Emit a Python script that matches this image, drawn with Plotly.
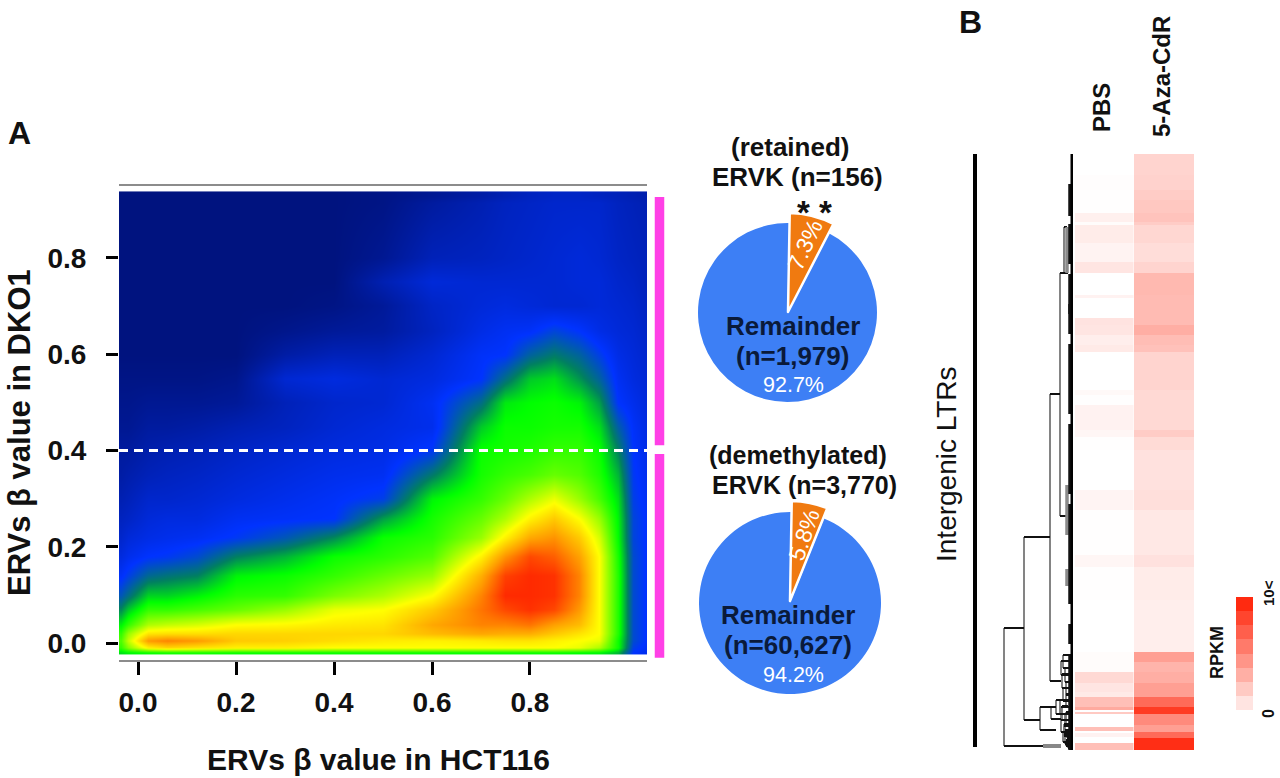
import plotly.graph_objects as go

W, H = 1280, 778

# ---------- Panel A: density (0 navy, .2 blue, .45 green, .7 yellow, 1 red)
density_x = [-0.034, -0.02, 0.02, 0.06, 0.12, 0.2, 0.3, 0.4, 0.5, 0.6, 0.7, 0.75, 0.8, 0.85, 0.9, 0.94, 0.98, 1.01, 1.04]
density_y = [-0.018, -0.008, 0.005, 0.02, 0.04, 0.07, 0.10, 0.14, 0.18, 0.22, 0.26, 0.30, 0.35, 0.40, 0.45, 0.50, 0.55, 0.60, 0.65, 0.70, 0.75, 0.80, 0.915, 0.93]
density_by_column = [
    [.42,.50,.53,.50,.44,.34,.26,.19,.15,.12,.10,.08,.06,.05,.03,.02,.01,0,0,0,0,0,0,0],
    [.44,.58,.64,.60,.50,.40,.30,.22,.17,.14,.11,.09,.07,.05,.03,.02,.01,0,0,0,0,0,0,0],
    [.46,.72,.85,.74,.62,.50,.41,.29,.20,.16,.14,.12,.09,.07,.05,.03,.01,0,0,0,0,0,0,0],
    [.47,.76,.88,.75,.64,.50,.41,.31,.21,.17,.15,.12,.10,.08,.05,.03,.01,0,0,0,0,0,0,0],
    [.47,.74,.85,.75,.66,.52,.44,.33,.24,.18,.15,.13,.11,.09,.06,.03,.01,0,0,0,0,0,0,0],
    [.46,.72,.78,.76,.70,.55,.49,.44,.33,.21,.18,.15,.13,.11,.08,.04,.02,0,0,0,0,0,0,0],
    [.46,.72,.77,.76,.71,.60,.50,.46,.38,.26,.19,.17,.15,.13,.10,.09,.13,.06,.02,0,0,0,0,0],
    [.46,.70,.75,.76,.73,.68,.57,.50,.46,.34,.20,.19,.17,.15,.13,.12,.15,.09,.04,.01,0,0,0,0],
    [.46,.70,.73,.76,.74,.70,.62,.55,.49,.46,.36,.22,.18,.16,.15,.13,.13,.09,.05,.04,.08,.03,.01,.01],
    [.46,.70,.72,.80,.83,.78,.70,.60,.53,.49,.47,.44,.32,.21,.17,.18,.15,.13,.10,.11,.14,.09,.05,.03],
    [.46,.70,.73,.83,.88,.90,.88,.82,.72,.60,.55,.50,.47,.46,.40,.30,.20,.19,.16,.14,.13,.10,.08,.06],
    [.46,.70,.74,.82,.88,.96,1.0,.97,.86,.72,.62,.55,.50,.47,.46,.43,.30,.20,.18,.15,.13,.11,.10,.08],
    [.46,.70,.74,.82,.90,.99,1.0,1.0,.96,.83,.72,.62,.52,.48,.46,.45,.40,.28,.19,.14,.13,.12,.11,.10],
    [.46,.70,.72,.78,.84,.96,.99,.99,.93,.86,.78,.68,.55,.50,.47,.46,.42,.32,.23,.13,.13,.13,.12,.11],
    [.45,.68,.70,.74,.80,.85,.88,.88,.84,.78,.70,.60,.53,.50,.47,.44,.35,.28,.20,.13,.14,.14,.12,.11],
    [.44,.62,.68,.70,.70,.70,.70,.70,.70,.66,.60,.52,.48,.46,.42,.36,.28,.22,.16,.14,.14,.13,.12,.10],
    [.38,.46,.46,.48,.48,.48,.48,.48,.47,.45,.44,.42,.38,.33,.27,.20,.18,.16,.14,.13,.12,.11,.10,.09],
    [.20,.22,.24,.24,.24,.24,.24,.24,.24,.23,.23,.22,.21,.20,.19,.17,.15,.14,.13,.12,.11,.10,.09,.08],
    [.17,.18,.19,.19,.19,.19,.19,.19,.19,.19,.19,.18,.17,.16,.15,.14,.13,.12,.11,.10,.09,.09,.08,.07],
]
density_colors = [[0, "#00137f"], [0.2, "#0033ff"], [0.33, "#008060"], [0.45, "#00ff00"],
                  [0.7, "#ffff00"], [0.85, "#ff9a00"], [1, "#ff2a00"]]
tick_values = [0.0, 0.2, 0.4, 0.6, 0.8]
tick_labels = ["0.0", "0.2", "0.4", "0.6", "0.8"]
threshold = [0.4, 0.4]
threshold_x = [-0.0388, 1.0388]
retained_bar = [0.411, 0.926]
demethylated_bar = [-0.03, 0.393]

# ---------- Pies
retained_share = [7.3, 92.7]
demethylated_share = [5.8, 94.2]
pie_labels = ["ERVK", "Remainder"]

# ---------- Panel B heat map: row boundaries along the cluster order, RPKM
row_edges = [0, 21, 36, 46, 59, 68, 71, 89, 108, 119, 141, 144, 164, 171, 181, 191, 198, 236, 241, 251, 276, 283,
             296, 336, 356, 401, 413, 446, 498, 508, 518, 529, 538, 543, 553, 555.5, 557.5, 560, 571, 573, 577, 578,
             579, 583, 584, 589, 596]
pbs_rpkm = [0.02, 0.08, 0.05, 0.05, 0.7, 0.15, 0.9, 0.55, 1.2, 0, 0.6, 0, 1.3, 1.2, 0.8, 1.0, 0, 0.3, 0.05, 0.6, 0.4, 0.05,
            0.02, 0.5, 0.05, 0.4, 0.05, 0, 0.15, 0.15, 1.8, 1.2, 1.0, 3.0, 4.0, 0, 2.5, 0, 0, 3.0, 0, 0,
            0.6, 0, 0, 3.0]
aza_rpkm = [2.0, 2.1, 2.4, 2.6, 2.8, 2.4, 1.9, 1.6, 2.0, 3.3, 3.2, 3.2, 3.2, 3.8, 3.1, 2.9, 2.0, 1.8, 1.8, 1.8, 2.4, 1.7,
            1.4, 1.5, 1.1, 1.4, 0.9, 0.8, 4.5, 3.5, 3.8, 4.5, 4.5, 7.0, 9.2, 9.2, 9.2, 5.5, 4.5, 4.5, 4.5, 7.0,
            7.0, 7.0, 9.8, 9.8]
rpkm_colors = [[0, "#ffffff"], [1, "#ff2a10"]]
legend_steps = [10, 8.75, 7.5, 6.25, 5, 3.75, 2.5, 1.25]

# ---------- Dendrogram: node height, row span, and how far each arm reaches (height values)
node_height = [69, 49, 23, 13, 9, 33, 22, 17, 12, 8, 10, 12, 8, 11, 7, 10, 7, 13, 11, 7, 12, 9, 6, 10, 8, 7, 9, 5]
node_top = [474, 383, 240, 119, 73, 553, 553, 546, 553, 560, 501, 507, 514, 520, 528, 534, 540, 546, 552, 558, 566, 572, 576, 578, 582, 586, 570, 588]
node_bottom = [592, 566, 527, 362, 119, 576, 565, 560, 566, 576, 514, 521, 528, 534, 541, 547, 553, 560, 566, 572, 578, 582, 584, 588, 590, 592, 580, 594]
arm_top = [49, 23, 13, 9, 6, 22, 17, 6, 5, 5, 4, 3, 2, 3, 2, 3, 3, 4, 5, 3, 6, 2, 2, 3, 3, 2, 3, 2]
arm_bottom = [30, 33, 12, 7, 5, 17, 12, 5, 5, 3, 3, 3, 2, 2, 2, 2, 4, 4, 4, 3, 4, 3, 2, 3, 3, 2, 3, 2]
trunk_height = [1, 1]
trunk_rows = [0, 596]
thick_tops = [30, 70, 120, 150, 190, 270, 350, 470, 500]
thick_bottoms = [62, 110, 160, 180, 260, 340, 450, 490, 596]
grey_tops = [73, 331, 415]
grey_bottoms = [119, 381, 432]
grey_leaf_height = [30, 12]
grey_leaf_row = [592, 592]

def px_x(p): return p / W
def px_y(p): return 1 - p / H

fig = go.Figure()

# Panel A
fig.add_trace(go.Heatmap(x=density_x, y=density_y, z=[list(r) for r in zip(*density_by_column)],
                         colorscale=density_colors, zmin=0, zmax=1, zsmooth="best", showscale=False,
                         hoverinfo="skip", xaxis="x", yaxis="y"))
fig.add_trace(go.Scatter(x=threshold_x, y=threshold, mode="lines", line=dict(color="white", width=3, dash="9px,6px"),
                         hoverinfo="skip", xaxis="x", yaxis="y"))
for bar in (retained_bar, demethylated_bar):
    fig.add_trace(go.Scatter(x=[0.5, 0.5], y=bar, mode="lines", line=dict(color="#ff40e6", width=10),
                             hoverinfo="skip", xaxis="x7", yaxis="y"))

# Pies: full blue disc, then the orange wedge on a slightly larger disc
def pie(share, cx, cy, r, colors, line_w):
    fig.add_trace(go.Pie(values=share, labels=pie_labels, sort=False, direction="clockwise", rotation=1,
                         textinfo="none", hoverinfo="skip", showlegend=False,
                         marker=dict(colors=colors, line=dict(color="white", width=line_w)),
                         domain=dict(x=[(cx - r) / W, (cx + r) / W], y=[1 - (cy + r) / H, 1 - (cy - r) / H])))

blue, orange, clear = "#3d7ff5", "#f07a10", "rgba(0,0,0,0)"
pie(retained_share, 787.5, 312.5, 89.5, [blue, blue], [0, 0])
pie(retained_share, 788, 312, 99, [orange, clear], [2.5, 0])
pie(demethylated_share, 790, 603, 91, [blue, blue], [0, 0])
pie(demethylated_share, 790, 601, 100, [orange, clear], [2.5, 0])

# Panel B heat map
fig.add_trace(go.Heatmap(x=[0, 1], y=row_edges, z=[[a] for a in pbs_rpkm], colorscale=rpkm_colors, zmin=0, zmax=10,
                         showscale=False, hoverinfo="skip", xaxis="x2", yaxis="y2"))
fig.add_trace(go.Heatmap(x=[0, 1], y=row_edges, z=[[a] for a in aza_rpkm], colorscale=rpkm_colors, zmin=0, zmax=10,
                         showscale=False, hoverinfo="skip", xaxis="x3", yaxis="y2"))

# Dendrogram
vx, vy, hx, hy = [], [], [], []
for h, t, b, at, ab in zip(node_height, node_top, node_bottom, arm_top, arm_bottom):
    vx += [h, h, None]; vy += [t, b, None]
    hx += [h, at, None, h, ab, None]; hy += [t, t, None, b, b, None]
fig.add_trace(go.Scatter(x=vx, y=vy, mode="lines", line=dict(color="#777777", width=1.8), hoverinfo="skip", xaxis="x4", yaxis="y2"))
fig.add_trace(go.Scatter(x=hx, y=hy, mode="lines", line=dict(color="#111111", width=2), hoverinfo="skip", xaxis="x4", yaxis="y2"))
gx, gy = [], []
for t, b in zip(grey_tops, grey_bottoms):
    gx += [6, 6, None]; gy += [t, b, None]
fig.add_trace(go.Scatter(x=gx, y=gy, mode="lines", line=dict(color="#8a8a8a", width=3.5), hoverinfo="skip", xaxis="x4", yaxis="y2"))
fig.add_trace(go.Scatter(x=grey_leaf_height, y=grey_leaf_row, mode="lines", line=dict(color="#888888", width=4), hoverinfo="skip", xaxis="x4", yaxis="y2"))
bx, by = [], []
for t, b in zip(thick_tops, thick_bottoms):
    bx += [3, 3, None]; by += [t, b, None]
fig.add_trace(go.Scatter(x=bx, y=by, mode="lines", line=dict(color="#111111", width=3.5), hoverinfo="skip", xaxis="x4", yaxis="y2"))
fig.add_trace(go.Scatter(x=trunk_height, y=trunk_rows, mode="lines", line=dict(color="black", width=3), hoverinfo="skip", xaxis="x4", yaxis="y2"))

# LTR bracket
fig.add_trace(go.Scatter(x=[0.5, 0.5], y=[-1, 593], mode="lines", line=dict(color="black", width=4), hoverinfo="skip", xaxis="x5", yaxis="y2"))

# Legend strip
fig.add_trace(go.Heatmap(x=[0, 1], y=list(range(len(legend_steps) + 1)), z=[[v] for v in legend_steps], colorscale=rpkm_colors,
                         zmin=0, zmax=10, showscale=False, hoverinfo="skip", xaxis="x6", yaxis="y6"))

hidden = dict(visible=False, fixedrange=True)
axis_font = dict(family="Liberation Sans", size=28, color="#111111", weight="bold")
layout = dict(
    width=W, height=H, margin=dict(l=0, r=0, t=0, b=0), paper_bgcolor="white", plot_bgcolor="white",
    showlegend=False,
    xaxis=dict(domain=[119 / W, 647 / W], range=[-0.0388, 1.0388], tickvals=tick_values, ticktext=tick_labels,
               ticks="outside", ticklen=13, tickwidth=3, tickcolor="black", showline=True, mirror=True,
               linecolor="#8c8c8c", linewidth=2, showgrid=False, zeroline=False, tickfont=axis_font,
               ticklabelstandoff=3),
    yaxis=dict(domain=[1 - 660 / H, 1 - 186 / H], range=[-0.0346, 0.9488], tickvals=tick_values, ticktext=tick_labels,
               ticks="outside", ticklen=12, tickwidth=3, tickcolor="black", showline=False, showgrid=False,
               zeroline=False, tickfont=axis_font, ticklabelstandoff=14),
    xaxis2=dict(domain=[1075 / W, 1133.5 / W], range=[0, 1], anchor="y2", **hidden),
    xaxis3=dict(domain=[1134 / W, 1194 / W], range=[0, 1], anchor="y2", **hidden),
    xaxis4=dict(domain=[1000 / W, 1073 / W], range=[73, 0], anchor="y2", **hidden),
    xaxis5=dict(domain=[973 / W, 977 / W], range=[0, 1], anchor="y2", **hidden),
    xaxis6=dict(domain=[1236 / W, 1253 / W], range=[0, 1], anchor="y6", **hidden),
    xaxis7=dict(domain=[654.5 / W, 664.5 / W], range=[0, 1], anchor="y", **hidden),
    yaxis2=dict(domain=[1 - 750 / H, 1 - 154 / H], range=[596, 0], anchor="x2", **hidden),
    yaxis6=dict(domain=[1 - 710 / H, 1 - 597 / H], range=[8, 0], anchor="x6", **hidden),
)

def note(text, x, y, size=26, bold=True, color="#111111", angle=0):
    fig.add_annotation(text=f"<b>{text}</b>" if bold else text, x=px_x(x), y=px_y(y), xref="paper", yref="paper",
                       showarrow=False, xanchor="center", yanchor="middle", textangle=angle,
                       font=dict(family="Liberation Sans", size=size, color=color))

note("A", 19, 133, 32)
note("B", 970, 22, 32)
note("ERVs β value in HCT116", 378, 759, 30)
note("ERVs β value in DKO1", 19, 433, 31, angle=-90)
note("(retained)", 790, 147)
note("ERVK (n=156)", 797, 177)
note("* *", 814, 212, 33)
note("7.3%", 805, 245, 23, bold=False, color="white", angle=-65)
note("Remainder", 793, 326, color="#0a1a3a")
note("(n=1,979)", 792.5, 356, color="#0a1a3a")
note("92.7%", 793, 385, 21.5, bold=False, color="white")
note("(demethylated)", 797.5, 455, 25)
note("ERVK (n=3,770)", 804, 485, 25)
note("5.8%", 804, 535, 23, bold=False, color="white", angle=-71)
note("Remainder", 788, 615, color="#0a1a3a")
note("(n=60,627)", 788, 645, color="#0a1a3a")
note("94.2%", 793, 675, 21.5, bold=False, color="white")
note("Intergenic LTRs", 946, 464, 28, bold=False, angle=-90)
note("PBS", 1101, 108, 24, angle=-90)
note("5-Aza-CdR", 1161, 77, 24, angle=-90)
note("RPKM", 1217, 653, 18, angle=-90)
note("10<", 1268, 593, 15, angle=-90)
note("0", 1268, 714, 16, angle=-90)

fig.update_layout(**layout)
fig.write_html("out.html", config=dict(displayModeBar=False), post_script="document.body.style.margin='0';")
